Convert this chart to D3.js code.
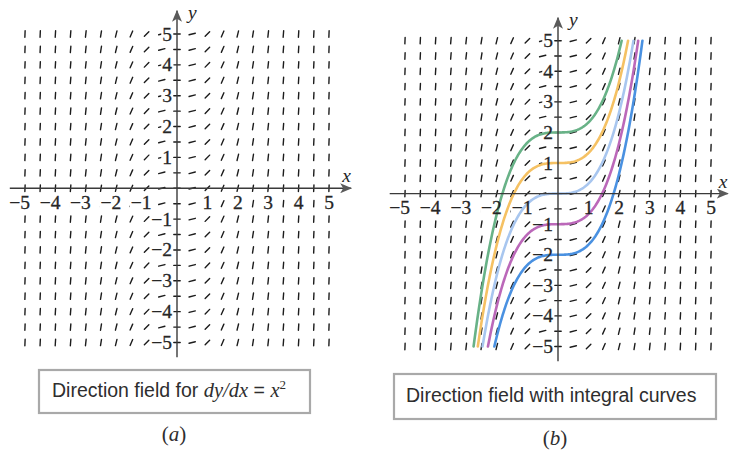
<!DOCTYPE html>
<html>
<head>
<meta charset="utf-8">
<script src="https://cdn.jsdelivr.net/npm/d3@7"></script>
<style>
  html, body { margin: 0; padding: 0; background: #fff; }
  svg { display: block; }
</style>
</head>
<body>
<svg id="chart" width="729" height="451"></svg>
<script>
// Grid points where a slope mark is drawn (step 0.5 in both directions)
const fieldX = [-5, -4.5, -4, -3.5, -3, -2.5, -2, -1.5, -1, -0.5, 0, 0.5, 1, 1.5, 2, 2.5, 3, 3.5, 4, 4.5, 5];
const fieldY = [-5, -4.5, -4, -3.5, -3, -2.5, -2, -1.5, -1, -0.5, 0, 0.5, 1, 1.5, 2, 2.5, 3, 3.5, 4, 4.5, 5];
// Tick labels on both axes
const tickValues = [-5, -4, -3, -2, -1, 1, 2, 3, 4, 5];
// Integral curves y = x^3/3 + C
const curveConstants = [2, 1, 0, -1, -2];
const curveColors = ["#68b287", "#f5c163", "#a8c6ef", "#bb68b9", "#4a91e1"];

// dy/dx = x^2
const slope = (x, y) => x * x;

const svg = d3.select("#chart");
const serif = "'Liberation Serif', 'DejaVu Serif', serif";
const sans = "'Liberation Sans', Arial, sans-serif";
const ink = "#262626";

svg.append("defs").append("marker")
  .attr("id", "arrow")
  .attr("viewBox", "0 0 12 10")
  .attr("refX", 11).attr("refY", 5)
  .attr("markerWidth", 12).attr("markerHeight", 10)
  .attr("markerUnits", "userSpaceOnUse")
  .attr("orient", "auto")
  .append("path")
  .attr("d", "M0,0 L12,5 L0,10 L3,5 Z")
  .attr("fill", "#5a5a5a");

function drawPanel(cfg) {
  const x = d3.scaleLinear().domain([-5, 5]).range(cfg.xRange);
  const y = d3.scaleLinear().domain([-5, 5]).range(cfg.yRange);
  const g = svg.append("g");
  const x0 = x(0), y0 = y(0);
  const kx = Math.abs(x(1) - x(0)), ky = Math.abs(y(1) - y(0));
  const L = 6.4;

  // slope marks
  const pts = [];
  fieldY.forEach(fy => fieldX.forEach(fx => pts.push([fx, fy])));
  g.append("g").selectAll("line").data(pts).join("line")
    .each(function (d) {
      const m = slope(d[0], d[1]);
      let dx = kx, dy = -m * ky;
      const n = Math.hypot(dx, dy);
      dx = dx / n * L / 2; dy = dy / n * L / 2;
      const cx = x(d[0]), cy = y(d[1]);
      d3.select(this)
        .attr("x1", cx - dx).attr("y1", cy - dy)
        .attr("x2", cx + dx).attr("y2", cy + dy);
    })
    .attr("stroke", "#1c1c1c")
    .attr("stroke-width", 1.4)
    .attr("stroke-linecap", "round");

  const bgLayer = g.append("g");
  const curveLayer = g.append("g");
  const axisLayer = g.append("g");
  const labelLayer = g.append("g")
    .attr("font-family", serif).attr("font-size", 19.5).attr("fill", ink)
    .attr("stroke", ink).attr("stroke-width", 0.3);

  const fmt = d => d < 0 ? "\u2212" + Math.abs(d) : String(d);

  // tick labels; each gets a white patch so the field does not run through it
  function placeLabel(v, px, py, anchor) {
    const t = labelLayer.append("text")
      .attr("x", px).attr("y", py)
      .attr("text-anchor", anchor)
      .text(fmt(v));
    const b = t.node().getBBox();
    bgLayer.append("rect")
      .attr("x", b.x - 1).attr("y", b.y + 2)
      .attr("width", b.width + 2).attr("height", b.height - 4)
      .attr("fill", "#fff");
  }
  tickValues.forEach(v => placeLabel(v, x0 - 5, y(v) + 6.5, "end"));
  tickValues.forEach(v => placeLabel(v, v < 0 ? x(v) + 5 : x(v), y0 + 20.5, v < 0 ? "end" : "middle"));

  // integral curves
  if (cfg.curves) {
    const line = d3.line().x(d => x(d[0])).y(d => y(d[1]));
    curveConstants.forEach((C, i) => {
      const xa = Math.cbrt(3 * (-5 - C)), xb = Math.cbrt(3 * (5 - C));
      const n = 160;
      const data = d3.range(n + 1).map(k => {
        const t = xa + (xb - xa) * k / n;
        return [t, t * t * t / 3 + C];
      });
      curveLayer.append("path")
        .datum(data)
        .attr("d", line)
        .attr("fill", "none")
        .attr("stroke", curveColors[i])
        .attr("stroke-width", 2.6)
        .attr("stroke-linecap", "round");
    });
  }

  // axes
  axisLayer.append("line")
    .attr("x1", x(-5.5)).attr("y1", y0)
    .attr("x2", x(cfg.xAxisEnd)).attr("y2", y0)
    .attr("stroke", "#3a3a3a").attr("stroke-width", 1.4)
    .attr("marker-end", "url(#arrow)");
  axisLayer.append("line")
    .attr("x1", x0).attr("y1", y(-5.48))
    .attr("x2", x0).attr("y2", y(5.75))
    .attr("stroke", "#3a3a3a").attr("stroke-width", 1.4)
    .attr("marker-end", "url(#arrow)");

  // axis names
  labelLayer.append("text")
    .attr("x", x0 + 11).attr("y", y(5.75) + 8)
    .attr("font-style", "italic").attr("stroke-width", 0)
    .text("y");
  labelLayer.append("text")
    .attr("x", x(cfg.xAxisEnd) - 9).attr("y", y0 - 6)
    .attr("font-style", "italic").attr("stroke-width", 0)
    .text("x");

  // caption box
  const cap = cfg.caption;
  g.append("rect")
    .attr("x", cap.box[0]).attr("y", cap.box[1])
    .attr("width", cap.box[2]).attr("height", cap.box[3])
    .attr("fill", "#fff")
    .attr("stroke", "#a9a9a9").attr("stroke-width", 2.2);
  const t = g.append("text")
    .attr("x", cap.tx).attr("y", cap.ty)
    .attr("font-family", sans).attr("font-size", 19.5).attr("fill", "#2e2e2e");
  cap.parts.forEach(p => {
    const ts = t.append("tspan").text(p.text);
    if (p.math) ts.attr("font-family", serif).attr("font-style", "italic").attr("font-size", 20.5);
    if (p.sup) ts.attr("font-family", serif).attr("font-size", 13).attr("dy", -8);
  });

  const lab = g.append("text")
    .attr("x", cap.lx).attr("y", cap.ly)
    .attr("text-anchor", "middle")
    .attr("font-family", serif).attr("font-size", 21).attr("fill", "#2e2e2e");
  lab.append("tspan").text("(");
  lab.append("tspan").attr("font-style", "italic").text(cap.letter);
  lab.append("tspan").text(")");
}

drawPanel({
  xRange: [25, 329],
  yRange: [342.5, 34],
  xAxisEnd: 5.73,
  curves: false,
  caption: {
    box: [39, 370, 271, 43],
    tx: 52, ty: 397,
    parts: [
      { text: "Direction field for " },
      { text: "dy/dx", math: true },
      { text: " = " },
      { text: "x", math: true },
      { text: "2", sup: true }
    ],
    lx: 174, ly: 441, letter: "a"
  }
});

drawPanel({
  xRange: [405, 711],
  yRange: [346.5, 40.7],
  xAxisEnd: 5.55,
  curves: true,
  caption: {
    box: [394, 374, 322, 45],
    tx: 406, ty: 402,
    parts: [{ text: "Direction field with integral curves" }],
    lx: 555, ly: 445, letter: "b"
  }
});
</script>
</body>
</html>
